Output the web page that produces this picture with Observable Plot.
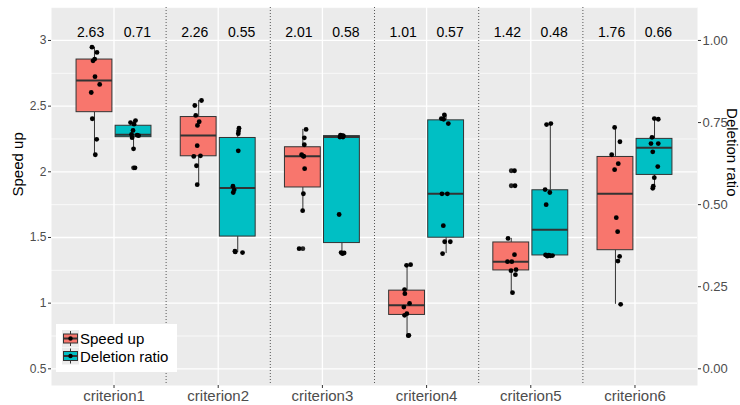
<!DOCTYPE html>
<html>
<head>
<meta charset="utf-8">
<script src="https://cdn.jsdelivr.net/npm/d3@7"></script>
<script src="https://cdn.jsdelivr.net/npm/@observablehq/plot@0.6"></script>
<style>
  body { margin: 0; background: #ffffff; }
  #wrap { position: relative; width: 740px; height: 405px; font-family: "Liberation Sans", Arial, Helvetica, sans-serif; }
  #legend { position: absolute; left: 56px; top: 324px; width: 121px; height: 48px; background: #ffffff; }
</style>
</head>
<body>
<div id="wrap"></div>
<script>
// ---- Data ----
const categories = ["criterion1", "criterion2", "criterion3", "criterion4", "criterion5", "criterion6"];
const seriesNames = ["Speed up", "Deletion ratio"];

// Speed up values (left axis)
const speedUp = [
  [2.949, 2.909, 2.858, 2.845, 2.724, 2.665, 2.604, 2.404, 2.247, 2.130],
  [2.543, 2.505, 2.429, 2.381, 2.353, 2.199, 2.122, 2.117, 2.046, 1.902],
  [2.323, 2.259, 2.206, 2.130, 2.120, 2.117, 2.024, 1.833, 1.704, 1.415],
  [1.293, 1.288, 1.103, 1.072, 0.998, 0.970, 0.920, 0.907, 0.755, 0.752],
  [2.008, 1.894, 1.493, 1.369, 1.316, 1.316, 1.255, 1.247, 1.217, 1.080],
  [2.338, 2.229, 2.130, 2.062, 2.016, 1.651, 1.544, 1.356, 1.320, 0.991]
];
// Horizontal jitter of each Speed up point (fraction of a category)
const speedJitter = [
  [-0.024, 0.024, 0.002, -0.014, 0.005, 0.050, -0.031, -0.021, 0.021, 0.008],
  [0.027, -0.037, -0.028, 0.005, -0.012, -0.014, 0.017, -0.047, -0.021, -0.014],
  [0.031, 0.014, 0.014, -0.012, 0.005, 0.008, 0.017, 0.005, -0.002, -0.036],
  [0.034, -0.005, -0.024, -0.021, 0.024, -0.031, -0.002, -0.024, 0.017, 0.012],
  [0.031, 0.036, -0.031, 0.031, -0.036, 0.005, 0.046, -0.002, 0.040, 0.012],
  [-0.008, 0.043, -0.036, 0.027, -0.008, 0.008, 0.021, 0.040, 0.024, 0.050]
];

// Deletion ratio values (right axis)
const deletionRatio = [
  [0.756, 0.750, 0.745, 0.726, 0.714, 0.712, 0.710, 0.704, 0.670, 0.612],
  [0.733, 0.724, 0.716, 0.664, 0.556, 0.545, 0.537, 0.358, 0.356, 0.354],
  [0.712, 0.710, 0.709, 0.708, 0.706, 0.706, 0.470, 0.354, 0.353, 0.351],
  [0.773, 0.762, 0.760, 0.747, 0.533, 0.533, 0.436, 0.387, 0.387, 0.351],
  [0.747, 0.744, 0.546, 0.537, 0.500, 0.347, 0.346, 0.345, 0.344, 0.343],
  [0.762, 0.760, 0.705, 0.686, 0.686, 0.661, 0.616, 0.582, 0.556, 0.550]
];
const deletionJitter = [
  [0.019, -0.029, 0.005, -0.005, -0.019, 0.034, 0.048, -0.014, 0.000, 0.014],
  [0.012, 0.008, 0.005, 0.005, -0.046, -0.034, -0.043, -0.027, -0.024, 0.046],
  [-0.014, 0.005, 0.014, -0.005, -0.019, 0.010, -0.027, -0.008, 0.021, 0.005],
  [-0.017, -0.046, -0.024, 0.021, -0.040, 0.012, -0.027, -0.014, 0.040, -0.034],
  [0.005, -0.036, -0.050, -0.005, -0.040, -0.046, -0.014, 0.021, 0.000, -0.029],
  [-0.002, 0.036, -0.024, -0.034, 0.036, -0.017, 0.031, -0.002, -0.012, -0.017]
];

const speedTicks = [0.5, 1, 1.5, 2, 2.5, 3];
const speedMinorTicks = [0.75, 1.25, 1.75, 2.25, 2.75, 3.25];
const ratioTicks = [0, 0.25, 0.5, 0.75, 1];

// ---- Build tables ----
const seriesFill = {"Speed up": "#F8766D", "Deletion ratio": "#00BFC4"};
const ratioToSpeed = d => 0.5 + 2.5 * d;          // secondary axis transform
const toPlot = {"Speed up": v => v, "Deletion ratio": ratioToSpeed};
const dodge = {"Speed up": -0.1875, "Deletion ratio": 0.1875};
const labelDodge = {"Speed up": -0.225, "Deletion ratio": 0.225};
const halfBox = 0.172;

const points = [], boxes = [], outliers = [], means = [];
categories.forEach((c, i) => {
  [["Speed up", speedUp[i], speedJitter[i]], ["Deletion ratio", deletionRatio[i], deletionJitter[i]]]
    .forEach(([s, vals, jit]) => {
      const f = toPlot[s];
      const xc = i + dodge[s];
      vals.forEach((v, k) => points.push({x: xc + jit[k], y: f(v), series: s}));
      const sorted = vals.map(f).sort(d3.ascending);
      const q1 = d3.quantileSorted(sorted, 0.25);
      const med = d3.quantileSorted(sorted, 0.5);
      const q3 = d3.quantileSorted(sorted, 0.75);
      const iqr = q3 - q1;
      const inFence = v => v >= q1 - 1.5 * iqr && v <= q3 + 1.5 * iqr;
      const inside = sorted.filter(inFence);
      boxes.push({series: s, xc, x1: xc - halfBox, x2: xc + halfBox, q1, med, q3,
                  lo: d3.min(inside), hi: d3.max(inside), fill: seriesFill[s]});
      sorted.filter(v => !inFence(v)).forEach(v => outliers.push({x: xc, y: v}));
      means.push({x: i + labelDodge[s], text: d3.mean(vals).toFixed(2)});
    });
});
const separators = d3.range(categories.length - 1).map(i => i + 0.5);

const axisText = "#4D4D4D", tickColor = "#333333";

const chart = Plot.plot({
  width: 740,
  height: 405,
  marginLeft: 51,
  marginRight: 43,
  marginTop: 7,
  marginBottom: 20,
  style: {fontFamily: "'Liberation Sans', Arial, Helvetica, sans-serif", background: "white", overflow: "visible"},
  x: {type: "linear", domain: [-0.6, categories.length - 0.4]},
  y: {domain: [0.373, 3.251]},
  color: {type: "identity"},
  marks: [
    Plot.frame({fill: "#EBEBEB"}),
    Plot.gridY({ticks: speedMinorTicks, stroke: "white", strokeOpacity: 1, strokeWidth: 0.7}),
    Plot.gridY({ticks: speedTicks, stroke: "white", strokeOpacity: 1, strokeWidth: 1.3}),
    Plot.gridX({ticks: d3.range(categories.length), stroke: "white", strokeOpacity: 1, strokeWidth: 1.3}),
    Plot.ruleX(separators, {x: d => d, stroke: "#555555", strokeWidth: 1, strokeDasharray: "1,2"}),
    Plot.ruleX(boxes, {x: "xc", y1: "q3", y2: "hi", stroke: tickColor, strokeWidth: 1}),
    Plot.ruleX(boxes, {x: "xc", y1: "lo", y2: "q1", stroke: tickColor, strokeWidth: 1}),
    Plot.rect(boxes, {x1: "x1", x2: "x2", y1: "q1", y2: "q3", fill: "fill", stroke: tickColor, strokeWidth: 1}),
    Plot.ruleY(boxes, {y: "med", x1: "x1", x2: "x2", stroke: tickColor, strokeWidth: 2}),
    Plot.dot(outliers, {x: "x", y: "y", r: 2.4, fill: "#222222"}),
    Plot.dot(points, {x: "x", y: "y", r: 2.4, fill: "black"}),
    Plot.text(means, {x: "x", y: () => 3.06, text: "text", fontSize: 14, fill: "black"}),
    Plot.axisY({anchor: "left", ticks: speedTicks, tickFormat: d => String(d), tickSize: 3, tickPadding: 2,
                fontSize: 12, stroke: tickColor, fill: axisText, label: null}),
    Plot.axisY({anchor: "right", ticks: ratioTicks.map(ratioToSpeed),
                tickFormat: v => ((v - 0.5) / 2.5).toFixed(2), tickSize: 3, tickPadding: 2,
                fontSize: 13, stroke: tickColor, fill: axisText, label: null}),
    Plot.axisX({ticks: d3.range(categories.length), tickFormat: i => categories[i], tickSize: 3, tickPadding: 2,
                fontSize: 15, stroke: tickColor, fill: axisText, label: null}),
    Plot.text(["Speed up"], {frameAnchor: "left", dx: -33.5, rotate: -90, text: d => d, fontSize: 15, fill: "black"}),
    Plot.text(["Deletion ratio"], {frameAnchor: "right", dx: 34, rotate: 90, text: d => d, fontSize: 15, fill: "black"})
  ]
});

const wrap = document.getElementById("wrap");
wrap.appendChild(chart);

// ---- Legend (inside panel, bottom-left) ----
const legend = document.createElement("div");
legend.id = "legend";
const rowsSvg = seriesNames.map((s, k) => {
  const cy = 14.5 + k * 17.5;
  return `<g transform="translate(6,${cy - 8.5})">
      <rect x="0" y="0" width="17" height="17" fill="#EBEBEB"/>
      <line x1="8.5" y1="1" x2="8.5" y2="16" stroke="#333" stroke-width="1"/>
      <rect x="1.5" y="4" width="14" height="9" fill="${seriesFill[s]}" stroke="#333" stroke-width="1"/>
      <line x1="1.5" y1="8.5" x2="15.5" y2="8.5" stroke="#333" stroke-width="2"/>
      <circle cx="8.5" cy="8.5" r="2.2" fill="black"/>
    </g>
    <text x="24" y="${cy}" dominant-baseline="central" font-size="15" fill="black">${s}</text>`;
}).join("");
legend.innerHTML = `<svg width="121" height="48" style="font-family:'Liberation Sans', Arial, sans-serif">${rowsSvg}</svg>`;
wrap.appendChild(legend);
</script>
</body>
</html>
